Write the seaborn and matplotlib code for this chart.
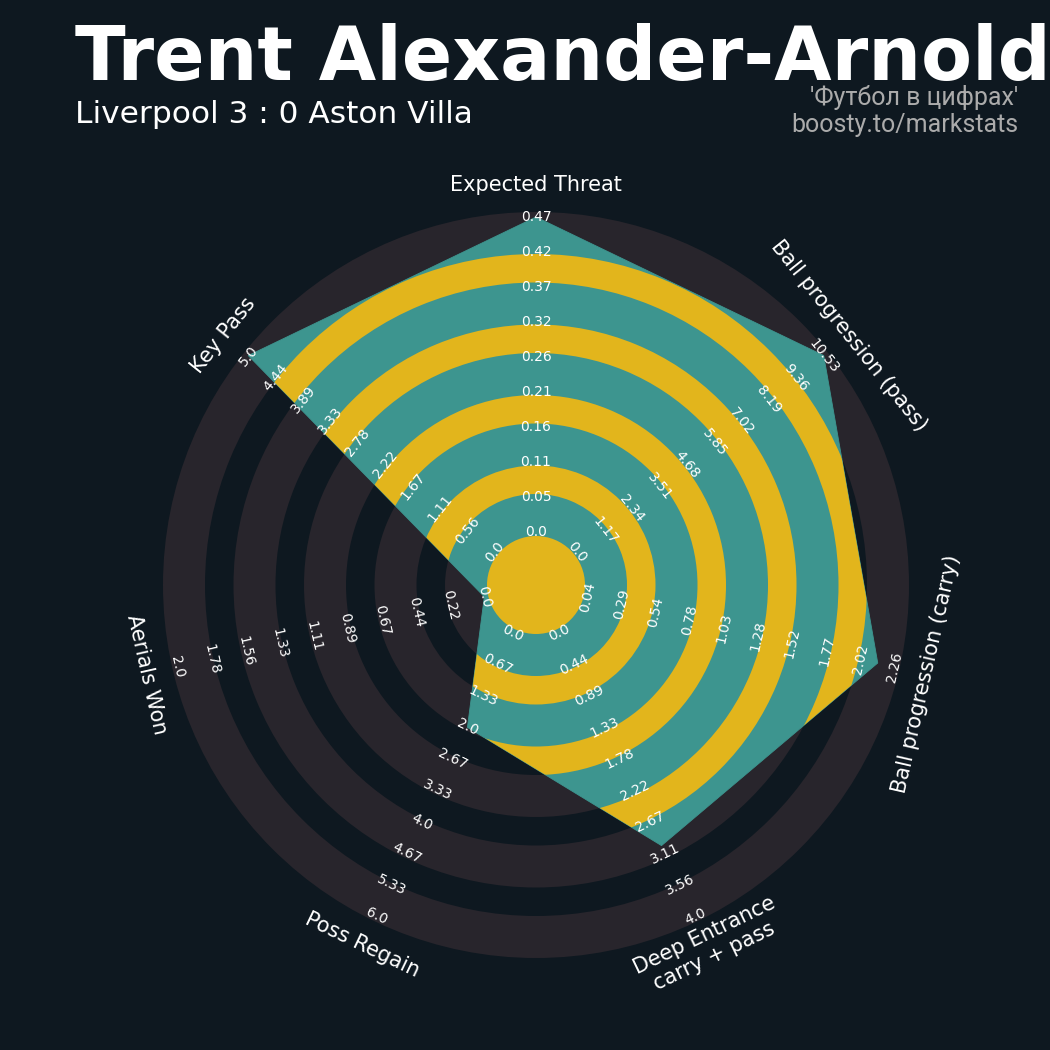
import numpy as np
import pandas as pd
import matplotlib
matplotlib.use("Agg")
import matplotlib.pyplot as plt
from matplotlib.patches import Circle, Wedge, Polygon
import seaborn as sns

# ---------------- data ----------------
params = ["Expected Threat", "Ball progression (pass)", "Ball progression (carry)",
          "Deep Entrance\ncarry + pass", "Poss Regain", "Aerials Won", "Key Pass"]
min_range = [0.0, 0.0, 0.044, 0.0, 0.0, 0.0, 0.0]
max_range = [0.474, 10.53, 2.263, 4.0, 6.0, 2.0, 5.0]
values = [0.474, 10.53, 2.14, 3.0, 2.0, 0.0, 5.0]

title = "Trent Alexander-Arnold"
subtitle = "Liverpool 3 : 0 Aston Villa"
credit1 = "'Футбол в цифрах'"
credit2 = "boosty.to/markstats"

# ---------------- style ----------------
BG = "#0e1820"
GRAY = "#28252c"
TEAL = "#3d958f"
YELLOW = "#e2b51c"

sns.set_theme(style="dark", rc={"figure.facecolor": BG, "axes.facecolor": BG})
plt.rcParams["font.family"] = ["DejaVu Sans"]

fig = plt.figure(figsize=(10.5, 10.5), dpi=100)
fig.patch.set_facecolor(BG)
ax = fig.add_axes([0, 0, 1, 1])
ax.set_facecolor(BG)
ax.set_xlim(-536, 514)
ax.set_ylim(-465, 585)
ax.set_aspect("equal")
ax.set_axis_off()

R_OUT = 373
dark_bands = [(0, 49), (91, 119.5), (161.5, 190), (232, 260.5), (302.5, 331)]
R0, R1 = 53, 368
R_LABEL = 400

n = len(params)
angles = np.deg2rad(np.arange(n) * 360.0 / n)  # clockwise from top


def radius(v, lo, hi):
    return R0 + (v - lo) / (hi - lo) * (R1 - R0)


# background rings
ax.add_patch(Circle((0, 0), R_OUT, facecolor=GRAY, edgecolor="none", zorder=1))
for a, b in dark_bands:
    if a == 0:
        ax.add_patch(Circle((0, 0), b, facecolor=BG, edgecolor="none", zorder=2))
    else:
        ax.add_patch(Wedge((0, 0), b, 0, 360, width=b - a, facecolor=BG,
                           edgecolor="none", zorder=2))

# radar polygon
rs = [radius(v, lo, hi) for v, lo, hi in zip(values, min_range, max_range)]
px = [r * np.sin(t) for r, t in zip(rs, angles)]
py = [r * np.cos(t) for r, t in zip(rs, angles)]
poly = Polygon(np.column_stack([px, py]), closed=True, facecolor=TEAL,
               edgecolor="none", zorder=3)
ax.add_patch(poly)
df = pd.DataFrame({"x": px + [px[0]], "y": py + [py[0]]})
sns.lineplot(data=df, x="x", y="y", sort=False, estimator=None, color=TEAL,
             lw=0.6, ax=ax, zorder=3)
ax.set_axis_off()

# yellow rings inside polygon
for a, b in dark_bands:
    if a == 0:
        p = Circle((0, 0), b, facecolor=YELLOW, edgecolor="none", zorder=4)
    else:
        p = Wedge((0, 0), b, 0, 360, width=b - a, facecolor=YELLOW,
                  edgecolor="none", zorder=4)
    ax.add_patch(p)
    p.set_clip_path(poly)

# labels
for i, (name, lo, hi, t) in enumerate(zip(params, min_range, max_range, angles)):
    deg = np.rad2deg(t)
    rot = -deg
    if 90 < deg < 270:
        rot += 180
    rot = (rot + 180) % 360 - 180
    ax.text(R_LABEL * np.sin(t), R_LABEL * np.cos(t), name, rotation=rot,
            rotation_mode="anchor", ha="center", va="center", color="white",
            fontsize=15, multialignment="center", zorder=6)
    for v in np.linspace(lo, hi, 10):
        r = radius(v, lo, hi)
        ax.text(r * np.sin(t), r * np.cos(t), f"{float(round(v, 2))}",
                rotation=rot, rotation_mode="anchor", ha="center", va="center",
                color="white", fontsize=10, zorder=6)

# titles
fig.text(75 / 1050, 1 - 80 / 1050, title, fontsize=53.5, fontweight="bold",
         color="white", ha="left", va="baseline")
fig.text(75 / 1050, 1 - 123 / 1050, subtitle, fontsize=22.5, color="white",
         ha="left", va="baseline")
fig.text(1018 / 1050, 1 - 97 / 1050, credit1, fontsize=18, color="#ababab",
         ha="right", va="center", family=["Roboto", "DejaVu Sans"])
fig.text(1018 / 1050, 1 - 125 / 1050, credit2, fontsize=18, color="#ababab",
         ha="right", va="center", family=["Roboto", "DejaVu Sans"])

fig.savefig("out.png", dpi=100, facecolor=BG)
